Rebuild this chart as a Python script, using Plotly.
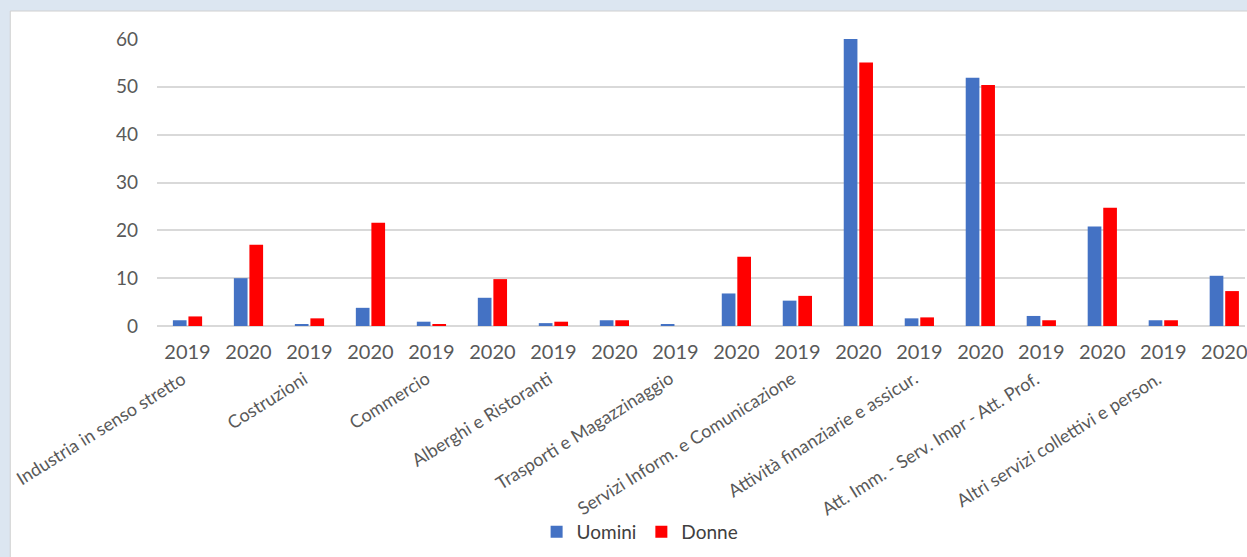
import plotly.graph_objects as go

sectors = [
    "Industria in senso stretto",
    "Costruzioni",
    "Commercio",
    "Alberghi e Ristoranti",
    "Trasporti e Magazzinaggio",
    "Servizi Inform. e Comunicazione",
    "Attività finanziarie e assicur.",
    "Att. Imm. - Serv. Impr - Att. Prof.",
    "Altri servizi collettivi e person.",
]
years = ["2019", "2020"]

# values per sector, in order 2019, 2020
uomini = [1.2, 10.0, 0.4, 3.8, 0.9, 5.9, 0.6, 1.2, 0.4, 6.8,
          5.3, 60.0, 1.6, 51.9, 2.1, 20.8, 1.2, 10.5]
donne = [2.0, 17.0, 1.6, 21.6, 0.4, 9.8, 0.9, 1.2, 0.0, 14.5,
         6.3, 55.1, 1.8, 50.4, 1.2, 24.7, 1.2, 7.3]

x_keys = [f"{s}|{y}" for s in sectors for y in years]
x_years = [y for s in sectors for y in years]

ML, MR, MT, MB = 157, 0, 39, 231
W, H = 1247, 557
PW = W - ML - MR
PH = H - MT - MB

FONT = "Lato"
GREY = "#595959"

fig = go.Figure()
fig.add_trace(go.Bar(x=x_keys, y=uomini, name="Uomini", marker=dict(color="#4472C4", line=dict(width=0))))
fig.add_trace(go.Bar(x=x_keys, y=donne, name="Donne", marker=dict(color="#FF0000", line=dict(width=0))))

cat_px = 61.1
x_max = -0.5 + PW / cat_px

annotations = []
for k, s in enumerate(sectors):
    annotations.append(dict(
        x=2 * k + 0.5, xref="x", y=0, yref="paper",
        text=s, textangle=-32, showarrow=False,
        xanchor="right", yanchor="top",
        xshift=-26, yshift=-38,
        font=dict(family=FONT, size=18, color=GREY),
    ))

# frame: light blue page with white chart panel
def px_to_paper_x(px):
    return (px - ML) / PW

def px_to_paper_y(py):
    return (H - MB - py) / PH

shapes = [dict(
    type="rect", xref="paper", yref="paper", layer="below",
    x0=px_to_paper_x(10), x1=px_to_paper_x(W + 20),
    y0=px_to_paper_y(H + 20), y1=px_to_paper_y(11),
    fillcolor="white", line=dict(color="#d0d0d0", width=1),
)]

fig.update_layout(
    width=W, height=H,
    margin=dict(l=ML, r=MR, t=MT, b=MB, pad=0),
    paper_bgcolor="#dce6f1",
    plot_bgcolor="rgba(0,0,0,0)",
    barmode="group",
    bargap=0.49,
    bargroupgap=0.12,
    font=dict(family=FONT, size=19, color=GREY),
    xaxis=dict(
        type="category",
        categoryorder="array", categoryarray=x_keys,
        tickmode="array", tickvals=x_keys, ticktext=x_years,
        range=[-0.5, x_max],
        showgrid=False, showline=False, zeroline=False,
        ticks="", ticklabelstandoff=12,
        tickangle=0,
        tickfont=dict(family=FONT, size=20, color=GREY),
    ),
    yaxis=dict(
        range=[0, 60], tickmode="array", tickvals=[0, 10, 20, 30, 40, 50, 60],
        showgrid=True, gridcolor="#d9d9d9", gridwidth=2,
        zeroline=True, zerolinecolor="#d9d9d9", zerolinewidth=2,
        showline=False, ticks="", ticklabelstandoff=18,
        tickfont=dict(family=FONT, size=19, color=GREY),
    ),
    legend=dict(
        orientation="h", x=px_to_paper_x(641), xanchor="center",
        y=px_to_paper_y(532), yanchor="middle",
        font=dict(family=FONT, size=19, color="#404040"),
        bgcolor="rgba(0,0,0,0)", itemwidth=30, traceorder="normal",
    ),
    annotations=annotations,
    shapes=shapes,
    showlegend=True,
)

fig.write_html(
    "out.html",
    config={"displayModeBar": False},
    post_script="document.body.style.margin='0';document.body.style.overflow='hidden';",
)
